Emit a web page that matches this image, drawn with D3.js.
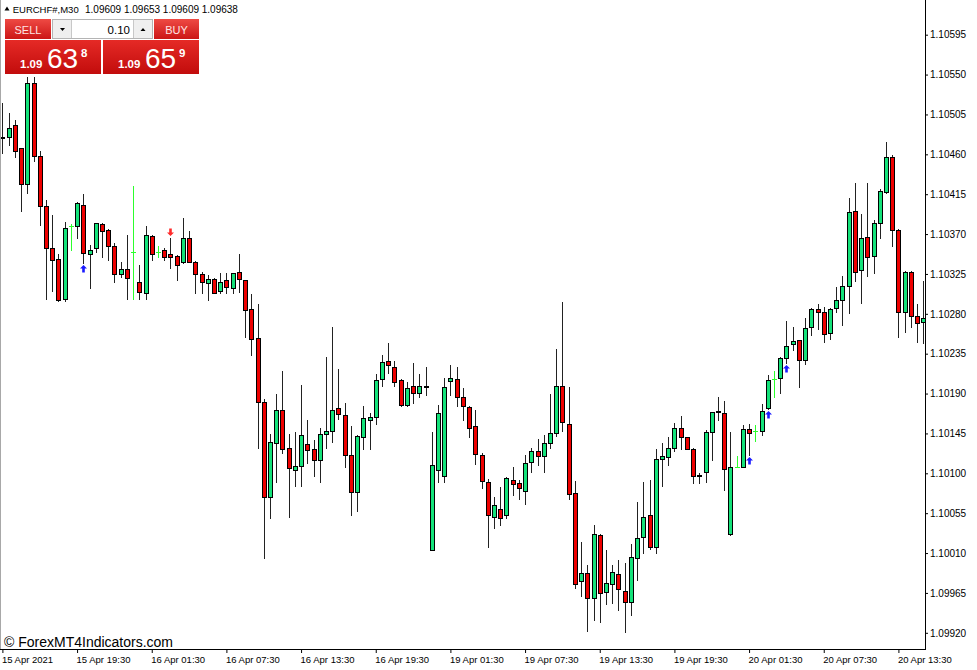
<!DOCTYPE html>
<html><head><meta charset="utf-8">
<script src="https://cdn.jsdelivr.net/npm/d3@7"></script>
<style>
html,body{margin:0;padding:0;background:#fff;}
svg{display:block;font-family:"Liberation Sans",Arial,sans-serif;}
</style></head><body>
<svg id="chart" width="977" height="670"></svg>
<script>
// ---------- data ----------
const symbolTitle = "EURCHF#,M30";
const headerQuote = "1.09609 1.09653 1.09609 1.09638";
const lotSize = "0.10";
const sellQuote = ["1.09", "63", "8"];
const buyQuote = ["1.09", "65", "9"];
const watermark = "\u00A9 ForexMT4Indicators.com";

const timeLabels = ["15 Apr 2021","15 Apr 19:30","16 Apr 01:30","16 Apr 07:30","16 Apr 13:30","16 Apr 19:30",
  "19 Apr 01:30","19 Apr 07:30","19 Apr 13:30","19 Apr 19:30","20 Apr 01:30","20 Apr 07:30","20 Apr 13:30"];
const timeLabelBars = [0,12,24,36,48,60,72,84,96,108,120,132,144];
const priceTicks = [1.10595,1.10550,1.10505,1.10460,1.10415,1.10370,1.10325,1.10280,1.10235,1.10190,
  1.10145,1.10100,1.10055,1.10010,1.09965,1.09920];

const barOpen = [1.10480,1.10480,1.10493,1.10467,1.10426,1.10541,1.10458,1.10402,1.10354,1.10342,
 1.10297,1.10379,1.10379,1.10403,1.10348,1.10354,1.10381,1.10375,1.10357,1.10325,
 1.10331,1.10350,1.10316,1.10303,1.10368,1.10350,1.10352,1.10347,1.10345,1.10338,
 1.10366,1.10339,1.10325,1.10315,1.10319,1.10306,1.10318,1.10309,1.10327,1.10318,
 1.10285,1.10253,1.10180,1.10073,1.10134,1.10172,1.10128,1.10104,1.10108,1.10133,
 1.10127,1.10115,1.10144,1.10148,1.10174,1.10166,1.10121,1.10079,1.10141,1.10160,
 1.10164,1.10206,1.10227,1.10220,1.10205,1.10177,1.10199,1.10191,1.10199,1.10014,
 1.10104,1.10097,1.10204,1.10206,1.10186,1.10175,1.10153,1.10121,1.10090,1.10051,
 1.10060,1.10053,1.10093,1.10089,1.10080,1.10113,1.10125,1.10119,1.10134,1.10146,
 1.10199,1.10156,1.10078,1.09978,1.09988,1.09959,1.10030,1.09966,1.09975,1.09986,
 1.09967,1.09955,1.10004,1.10028,1.10053,1.10017,1.10116,1.10118,1.10128,1.10151,
 1.10141,1.10127,1.10097,1.10101,1.10147,1.10169,1.10168,1.10031,1.10107,1.10107,
 1.10150,1.10148,1.10148,1.10174,1.10206,1.10207,1.10230,1.10246,1.10250,1.10228,
 1.10265,1.10285,1.10282,1.10258,1.10287,1.10296,1.10311,1.10396,1.10329,1.10367,
 1.10345,1.10382,1.10418,1.10457,1.10375,1.10282,1.10327,1.10277,1.10271];
const barHigh = [1.10518,1.10507,1.10499,1.10467,1.10547,1.10547,1.10464,1.10408,1.10391,1.10347,
 1.10384,1.10381,1.10406,1.10415,1.10358,1.10383,1.10382,1.10376,1.10360,1.10339,
 1.10369,1.10424,1.10335,1.10379,1.10369,1.10357,1.10354,1.10365,1.10346,1.10388,
 1.10373,1.10340,1.10327,1.10324,1.10320,1.10326,1.10326,1.10326,1.10348,1.10318,
 1.10302,1.10291,1.10184,1.10144,1.10190,1.10215,1.10144,1.10147,1.10200,1.10160,
 1.10138,1.10151,1.10231,1.10265,1.10218,1.10179,1.10153,1.10143,1.10176,1.10168,
 1.10212,1.10234,1.10247,1.10227,1.10206,1.10203,1.10224,1.10212,1.10220,1.10147,
 1.10177,1.10208,1.10222,1.10220,1.10196,1.10176,1.10172,1.10123,1.10094,1.10073,
 1.10085,1.10096,1.10107,1.10092,1.10121,1.10129,1.10139,1.10143,1.10190,1.10240,
 1.10293,1.10197,1.10091,1.10022,1.09997,1.10042,1.10032,1.10013,1.09997,1.10002,
 1.09999,1.10020,1.10068,1.10090,1.10092,1.10127,1.10134,1.10141,1.10157,1.10165,
 1.10141,1.10128,1.10100,1.10149,1.10169,1.10186,1.10182,1.10147,1.10119,1.10155,
 1.10156,1.10155,1.10178,1.10211,1.10215,1.10231,1.10272,1.10265,1.10251,1.10275,
 1.10287,1.10291,1.10288,1.10286,1.10310,1.10323,1.10411,1.10428,1.10393,1.10428,
 1.10386,1.10421,1.10474,1.10459,1.10376,1.10328,1.10328,1.10291,1.10317];
const barLow = [1.10461,1.10470,1.10457,1.10396,1.10416,1.10452,1.10380,1.10297,1.10306,1.10295,
 1.10295,1.10352,1.10366,1.10337,1.10309,1.10350,1.10344,1.10341,1.10316,1.10322,
 1.10297,1.10297,1.10297,1.10297,1.10341,1.10344,1.10341,1.10332,1.10318,1.10337,
 1.10338,1.10304,1.10303,1.10296,1.10303,1.10304,1.10304,1.10304,1.10305,1.10254,
 1.10233,1.10128,1.10004,1.10049,1.10090,1.10123,1.10051,1.10086,1.10086,1.10112,
 1.10097,1.10090,1.10129,1.10135,1.10161,1.10107,1.10053,1.10057,1.10127,1.10127,
 1.10156,1.10198,1.10213,1.10198,1.10176,1.10176,1.10179,1.10186,1.10188,1.10013,
 1.10090,1.10090,1.10188,1.10176,1.10160,1.10141,1.10111,1.10083,1.10017,1.10038,
 1.10042,1.10050,1.10076,1.10071,1.10065,1.10101,1.10109,1.10101,1.10129,1.10142,
 1.10148,1.10071,1.09970,1.09961,1.09922,1.09934,1.09932,1.09952,1.09954,1.09946,
 1.09921,1.09940,1.09980,1.10010,1.10015,1.10010,1.10086,1.10109,1.10125,1.10127,
 1.10127,1.10089,1.10089,1.10090,1.10115,1.10160,1.10081,1.10030,1.10107,1.10107,
 1.10121,1.10136,1.10143,1.10173,1.10186,1.10191,1.10224,1.10239,1.10197,1.10223,
 1.10256,1.10263,1.10248,1.10252,1.10282,1.10267,1.10281,1.10317,1.10292,1.10323,
 1.10326,1.10366,1.10416,1.10356,1.10254,1.10259,1.10265,1.10248,1.10247];
const barClose = [1.10479,1.10490,1.10464,1.10426,1.10541,1.10458,1.10402,1.10354,1.10341,1.10296,
 1.10377,1.10379,1.10405,1.10349,1.10352,1.10382,1.10374,1.10356,1.10325,1.10331,
 1.10320,1.10350,1.10305,1.10369,1.10348,1.10350,1.10344,1.10344,1.10335,1.10365,
 1.10339,1.10325,1.10316,1.10319,1.10304,1.10316,1.10310,1.10326,1.10319,1.10284,
 1.10252,1.10181,1.10073,1.10135,1.10171,1.10127,1.10106,1.10108,1.10143,1.10126,
 1.10115,1.10144,1.10148,1.10172,1.10167,1.10121,1.10079,1.10142,1.10162,1.10164,
 1.10205,1.10226,1.10222,1.10203,1.10177,1.10196,1.10191,1.10199,1.10197,1.10109,
 1.10168,1.10197,1.10208,1.10186,1.10176,1.10151,1.10122,1.10091,1.10053,1.10064,
 1.10050,1.10095,1.10088,1.10083,1.10112,1.10125,1.10119,1.10134,1.10146,1.10199,
 1.10158,1.10077,1.09975,1.09988,1.09959,1.10031,1.09965,1.09976,1.09989,1.09969,
 1.09955,1.10006,1.10027,1.10051,1.10017,1.10116,1.10119,1.10129,1.10151,1.10141,
 1.10127,1.10097,1.10098,1.10147,1.10169,1.10170,1.10105,1.10107,1.10107,1.10150,
 1.10146,1.10148,1.10170,1.10205,1.10206,1.10230,1.10244,1.10249,1.10228,1.10264,
 1.10285,1.10282,1.10257,1.10285,1.10296,1.10311,1.10395,1.10327,1.10366,1.10344,
 1.10383,1.10419,1.10457,1.10375,1.10282,1.10327,1.10277,1.10270,1.10275];
const buySignalBars = [13, 120, 123, 126];
const sellSignalBars = [27];

// ---------- drawing ----------
const svg = d3.select("#chart");
const W = 977, H = 670;
const plotRight = 925.5, plotBottom = 649.5, plotTop = 14;
const n = barOpen.length;
const x = d3.scaleLinear().domain([0, n - 1]).range([2.4, 923.3]);
const y = d3.scaleLinear().domain([1.09920, 1.10595]).range([632.8, 34.7]);

const green = "#14e27a", red = "#ee0000", lime = "#2cff2c";

svg.append("rect").attr("width", W).attr("height", H).attr("fill", "#fff");

const defs = svg.append("defs");
defs.append("clipPath").attr("id", "plotClip").append("rect")
  .attr("x", 0).attr("y", plotTop).attr("width", plotRight).attr("height", plotBottom - plotTop);

const bars = d3.range(n).map(i => ({i, o: barOpen[i], h: barHigh[i], l: barLow[i], c: barClose[i]}));
const plot = svg.append("g").attr("clip-path", "url(#plotClip)");

const col = d => Math.round(x(d.i));
const py = v => Math.round(y(v));

// wicks
plot.append("g").selectAll("line").data(bars).join("line")
  .attr("x1", d => col(d) + 0.5).attr("x2", d => col(d) + 0.5)
  .attr("y1", d => py(d.h)).attr("y2", d => py(d.l) + 1)
  .attr("stroke", d => d.o === d.c ? lime : "#222")
  .attr("stroke-width", 1);

// doji ticks
plot.append("g").selectAll("line").data(bars.filter(d => d.o === d.c)).join("line")
  .attr("x1", d => col(d) - 2).attr("x2", d => col(d) + 3)
  .attr("y1", d => py(d.o) + 0.5).attr("y2", d => py(d.o) + 0.5)
  .attr("stroke", lime).attr("stroke-width", 1);

// bodies
plot.append("g").selectAll("rect").data(bars.filter(d => d.o !== d.c)).join("rect")
  .attr("x", d => col(d) - 2 + 0.5)
  .attr("width", 4)
  .attr("y", d => py(Math.max(d.o, d.c)) + 0.5)
  .attr("height", d => Math.max(py(Math.min(d.o, d.c)) - py(Math.max(d.o, d.c)), 1))
  .attr("fill", d => d.c > d.o ? green : red)
  .attr("stroke", "#000").attr("stroke-width", 1);

// signal arrows
const upArrow = "M0,0 L3.5,3.6 L1.3,3.6 L1.3,7.5 L-1.3,7.5 L-1.3,3.6 L-3.5,3.6 Z";
plot.append("g").selectAll("path").data(buySignalBars).join("path")
  .attr("d", upArrow)
  .attr("transform", i => `translate(${Math.round(x(i)) + 0.5},${py(barLow[i]) + 2})`)
  .attr("fill", "#1a1aff");
plot.append("g").selectAll("path").data(sellSignalBars).join("path")
  .attr("d", upArrow)
  .attr("transform", i => `translate(${Math.round(x(i)) + 0.5},${py(barHigh[i]) - 2}) scale(1,-1)`)
  .attr("fill", "#ff2a2a");

// frame
svg.append("line").attr("x1", 0.5).attr("x2", 0.5).attr("y1", 0).attr("y2", plotBottom)
  .attr("stroke", "#a8a8a8");
svg.append("line").attr("x1", plotRight).attr("x2", plotRight).attr("y1", 0).attr("y2", plotBottom + 0.5)
  .attr("stroke", "#000");
svg.append("line").attr("x1", 0).attr("x2", plotRight).attr("y1", plotBottom).attr("y2", plotBottom)
  .attr("stroke", "#000");

// price axis
const yAxis = svg.append("g").attr("transform", `translate(${plotRight - 0.5},0)`)
  .call(d3.axisRight(y).tickValues(priceTicks).tickFormat(d3.format(".5f")).tickSize(3).tickPadding(2));
yAxis.select(".domain").remove();
yAxis.selectAll("text").attr("font-size", "10px").attr("fill", "#000")
  .attr("font-family", "'Liberation Sans', Arial, sans-serif");
yAxis.selectAll("line").attr("stroke", "#000");

// time axis
const xAxis = svg.append("g").attr("transform", `translate(0,${plotBottom - 0.5})`)
  .call(d3.axisBottom(x).tickValues(timeLabelBars).tickFormat((d, k) => timeLabels[k]).tickSize(4).tickPadding(3));
xAxis.select(".domain").remove();
xAxis.selectAll("text").attr("text-anchor", "start").attr("dx", "-1")
  .attr("font-size", "9.5px").attr("fill", "#000")
  .attr("font-family", "'Liberation Sans', Arial, sans-serif");
xAxis.selectAll("line").attr("stroke", "#000");

// header
svg.append("path").attr("d", "M4.5,10.5 L7,6.5 L9.5,10.5 Z").attr("fill", "#000");
svg.append("text").attr("x", 12.7).attr("y", 13).attr("font-size", "9.5px").text(symbolTitle);
svg.append("text").attr("x", 85).attr("y", 13).attr("font-size", "10px").text(headerQuote);

// watermark
svg.append("text").attr("x", 4).attr("y", 646.5).attr("font-size", "14px").attr("fill", "#000")
  .text(watermark);

// one-click trading panel
const g1 = defs.append("linearGradient").attr("id", "btnGrad").attr("x1", 0).attr("x2", 0).attr("y1", 0).attr("y2", 1);
g1.append("stop").attr("offset", "0%").attr("stop-color", "#ee4a44");
g1.append("stop").attr("offset", "100%").attr("stop-color", "#cc1616");
const g2 = defs.append("linearGradient").attr("id", "bigGrad").attr("x1", 0).attr("x2", 0).attr("y1", 0).attr("y2", 1);
g2.append("stop").attr("offset", "0%").attr("stop-color", "#e52a26");
g2.append("stop").attr("offset", "100%").attr("stop-color", "#c20c0c");

const panel = svg.append("g");
panel.append("rect").attr("x", 5).attr("y", 19).attr("width", 46).attr("height", 20).attr("fill", "url(#btnGrad)");
panel.append("text").attr("x", 28).attr("y", 33.5).attr("text-anchor", "middle").attr("font-size", "11px")
  .attr("fill", "#ffe4e4").text("SELL");
panel.append("rect").attr("x", 154).attr("y", 19).attr("width", 45).attr("height", 20).attr("fill", "url(#btnGrad)");
panel.append("text").attr("x", 176.5).attr("y", 33.5).attr("text-anchor", "middle").attr("font-size", "11px")
  .attr("fill", "#ffe4e4").text("BUY");
// lot control
panel.append("rect").attr("x", 52.5).attr("y", 19.5).attr("width", 100).attr("height", 19)
  .attr("fill", "#fff").attr("stroke", "#b4b4b4");
panel.append("rect").attr("x", 53).attr("y", 20).attr("width", 18).attr("height", 18).attr("fill", "#efefef");
panel.append("rect").attr("x", 134).attr("y", 20).attr("width", 18).attr("height", 18).attr("fill", "#efefef");
panel.append("line").attr("x1", 71.5).attr("x2", 71.5).attr("y1", 20).attr("y2", 38).attr("stroke", "#c8c8c8");
panel.append("line").attr("x1", 133.5).attr("x2", 133.5).attr("y1", 20).attr("y2", 38).attr("stroke", "#c8c8c8");
panel.append("path").attr("d", "M60,28 L65,28 L62.5,31 Z").attr("fill", "#000");
panel.append("path").attr("d", "M140.5,31 L145.5,31 L143,28 Z").attr("fill", "#000");
panel.append("text").attr("x", 130).attr("y", 33.5).attr("text-anchor", "end").attr("font-size", "11.5px")
  .attr("fill", "#000").text(lotSize);
// quote boxes
function quoteBox(x0, q) {
  panel.append("rect").attr("x", x0).attr("y", 40).attr("width", 96).attr("height", 34).attr("fill", "url(#bigGrad)");
  panel.append("text").attr("x", x0 + 15).attr("y", 68).attr("font-size", "11.5px").attr("font-weight", "bold")
    .attr("fill", "#fff").text(q[0]);
  panel.append("text").attr("x", x0 + 42).attr("y", 68).attr("font-size", "28px")
    .attr("fill", "#fff").text(q[1]);
  panel.append("text").attr("x", x0 + 76).attr("y", 56.5).attr("font-size", "11.5px").attr("font-weight", "bold")
    .attr("fill", "#fff").text(q[2]);
}
quoteBox(5, sellQuote);
quoteBox(103, buyQuote);
</script>
</body></html>
